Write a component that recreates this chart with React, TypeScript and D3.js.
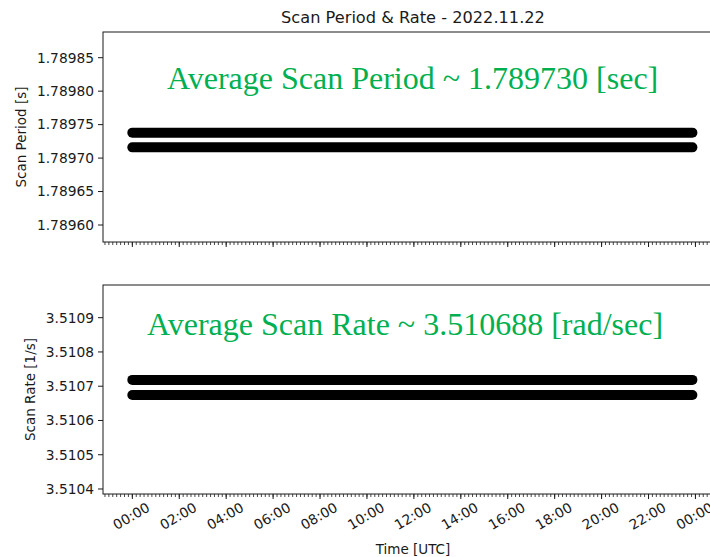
import React from "react";
import * as d3 from "d3";

// ---------- data ----------
const title = "Scan Period & Rate - 2022.11.22";
const timeSpanHours = [0, 23.87]; // first and last sample (hours UTC)
const periodLevels = [1.789738, 1.789716]; // two bands of scan period [s]
const rateLevels = [3.5107184, 3.5106746]; // two bands of scan rate [1/s]
const periodTicks = [1.7896, 1.78965, 1.7897, 1.78975, 1.7898, 1.78985];
const rateTicks = [3.5104, 3.5105, 3.5106, 3.5107, 3.5108, 3.5109];
const xTickHours = [0, 2, 4, 6, 8, 10, 12, 14, 16, 18, 20, 22, 24];
const xTickLabels = ["00:00", "02:00", "04:00", "06:00", "08:00", "10:00", "12:00", "14:00", "16:00", "18:00", "20:00", "22:00", "00:00"];
const periodNote = "Average Scan Period ~ 1.789730 [sec]";
const rateNote = "Average Scan Rate ~ 3.510688 [rad/sec]";

const W = 710;
const H = 557;
const left = 103;
const right = 723.6;
const green = "#00B050";
const ink = "#1a1a1a";
const sans = "'DejaVu Sans', sans-serif";

const x = d3.scaleLinear().domain([-1.25, 25.2]).range([left, right]);
const minorHours = d3.range(-7, 152).map((i) => i / 6).filter((h) => x(h) >= left && x(h) <= right);

type PanelProps = {
  top: number;
  bottom: number;
  domain: [number, number];
  ticks: number[];
  fmt: (v: number) => string;
  levels: number[];
  ylabel: string;
  ylabelX: number;
  note: string;
  noteX: number;
  noteY: number;
  showXLabels: boolean;
};

function Panel(p: PanelProps) {
  const y = d3.scaleLinear().domain(p.domain).range([p.bottom, p.top]);
  const line = d3
    .line<number>()
    .x((t) => x(t))
    .y(0);
  return (
    <g>
      {p.levels.map((lv, i) => (
        <path
          key={i}
          d={line(timeSpanHours) || ""}
          transform={`translate(0,${y(lv)})`}
          stroke="#000"
          strokeWidth={10}
          strokeLinecap="round"
          fill="none"
        />
      ))}
      <rect x={left} y={p.top} width={right - left} height={p.bottom - p.top} fill="none" stroke={ink} strokeWidth={1} />
      {p.ticks.map((t, i) => (
        <g key={i} transform={`translate(0,${y(t)})`}>
          <line x1={left - 5} x2={left} stroke={ink} strokeWidth={1} />
          <text x={left - 9} dy="0.35em" textAnchor="end" fontFamily={sans} fontSize={13.8} fill={ink}>
            {p.fmt(t)}
          </text>
        </g>
      ))}
      {minorHours.map((h, i) => (
        <line key={i} x1={x(h)} x2={x(h)} y1={p.bottom} y2={p.bottom + 3} stroke={ink} strokeWidth={0.8} />
      ))}
      {xTickHours.map((h, i) => (
        <g key={i} transform={`translate(${x(h)},0)`}>
          <line y1={p.bottom} y2={p.bottom + 5} stroke={ink} strokeWidth={1} />
          {p.showXLabels && (
            <text
              transform={`translate(-1,${p.bottom + 22}) rotate(-30)`}
              textAnchor="middle"
              dy="0.35em"
              fontFamily={sans}
              fontSize={13.8}
              fill={ink}
            >
              {xTickLabels[i]}
            </text>
          )}
        </g>
      ))}
      <text
        transform={`translate(${p.ylabelX},${(p.top + p.bottom) / 2}) rotate(-90)`}
        textAnchor="middle"
        dy="0.35em"
        fontFamily={sans}
        fontSize={13.5}
        fill={ink}
      >
        {p.ylabel}
      </text>
      <text x={p.noteX} y={p.noteY} fontFamily="'Liberation Serif', 'Times New Roman', serif" fontSize={32} fill={green}>
        {p.note}
      </text>
    </g>
  );
}

export default function App() {
  return (
    <svg width={W} height={H} style={{ position: "absolute", left: 0, top: 0, background: "#fff" }}>
      <rect width={W} height={H} fill="#fff" />
      <text x={413} y={23} textAnchor="middle" fontFamily={sans} fontSize={16.2} fill={ink}>
        {title}
      </text>
      <Panel
        top={32}
        bottom={242}
        domain={[1.7895746, 1.7898884]}
        ticks={periodTicks}
        fmt={(v) => v.toFixed(5)}
        levels={periodLevels}
        ylabel="Scan Period [s]"
        ylabelX={21}
        note={periodNote}
        noteX={167}
        noteY={89}
        showXLabels={false}
      />
      <Panel
        top={285}
        bottom={494}
        domain={[3.5103854, 3.5109954]}
        ticks={rateTicks}
        fmt={(v) => v.toFixed(4)}
        levels={rateLevels}
        ylabel="Scan Rate [1/s]"
        ylabelX={30}
        note={rateNote}
        noteX={147}
        noteY={335}
        showXLabels={true}
      />
      <text x={413} y={554} textAnchor="middle" fontFamily={sans} fontSize={13.5} fill={ink}>
        Time [UTC]
      </text>
    </svg>
  );
}
